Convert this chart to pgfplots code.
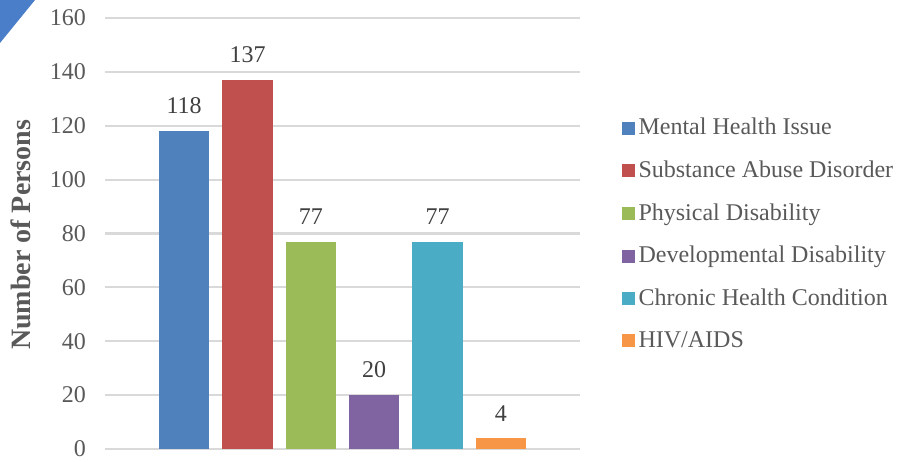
\documentclass[border=0pt]{standalone}
\usepackage{pgfplots}
\pgfplotsset{compat=1.18}
\usepackage{fontspec}
\setmainfont{Liberation Serif}
\definecolor{c1}{HTML}{4F81BD}
\definecolor{c2}{HTML}{C0504D}
\definecolor{c3}{HTML}{9BBB59}
\definecolor{c4}{HTML}{8064A2}
\definecolor{c5}{HTML}{4BACC6}
\definecolor{c6}{HTML}{F79646}
\definecolor{txt}{HTML}{595959}
\definecolor{grd}{HTML}{D9D9D9}
\definecolor{deco}{HTML}{4A7EC8}
\begin{document}
\begin{tikzpicture}
\useasboundingbox (-52.5pt,-6pt) rectangle (403pt,224.5pt);
\fill[deco] (-52.5pt,224.5pt) -- (-35pt,224.5pt) -- (-52.5pt,203pt) -- cycle;
\begin{axis}[
  at={(0pt,0pt)}, anchor=south west,
  scale only axis, width=237.5pt, height=215.5pt,
  ybar, bar width=0.79,
  xmin=-1.25, xmax=6.25, ymin=0, ymax=160,
  ytick={0,20,...,160}, xtick=\empty,
  axis line style={draw=none},
  ymajorgrids, grid style={grd, line width=1.1pt},
  major tick length=0pt,
  tick label style={font=\fontsize{12}{14}\selectfont, text=txt},
  /pgf/number format/assume math mode=true,
  yticklabel style={xshift=-6pt},
  ylabel={Number of Persons},
  every axis y label/.style={at={(axis description cs:-0.177,0.497)}, rotate=90, anchor=center, font=\fontsize{14}{16}\selectfont\bfseries, text=txt},
  nodes near coords,
  every node near coord/.append style={font=\fontsize{12}{14}\selectfont, text=black!75, yshift=5pt},
  legend image code/.code={\fill[#1] (0pt,-3.25pt) rectangle (6.5pt,3.25pt);},
  legend cell align=left,
  legend style={draw=none, fill=none, at={(1.074,0.498)}, anchor=west,
    font=\fontsize{12}{14}\selectfont, text=txt, row sep=7.5pt,
    /tikz/every even column/.append style={column sep=0pt}},
]
\addplot[fill=c1, draw=none, bar shift=0pt] coordinates {(0,118)};
\addplot[fill=c2, draw=none, bar shift=0pt] coordinates {(1,137)};
\addplot[fill=c3, draw=none, bar shift=0pt] coordinates {(2,77)};
\addplot[fill=c4, draw=none, bar shift=0pt] coordinates {(3,20)};
\addplot[fill=c5, draw=none, bar shift=0pt] coordinates {(4,77)};
\addplot[fill=c6, draw=none, bar shift=0pt] coordinates {(5,4)};
\legend{Mental Health Issue, Substance Abuse Disorder, Physical Disability, Developmental Disability, Chronic Health Condition, HIV/AIDS}
\end{axis}
\end{tikzpicture}
\end{document}
